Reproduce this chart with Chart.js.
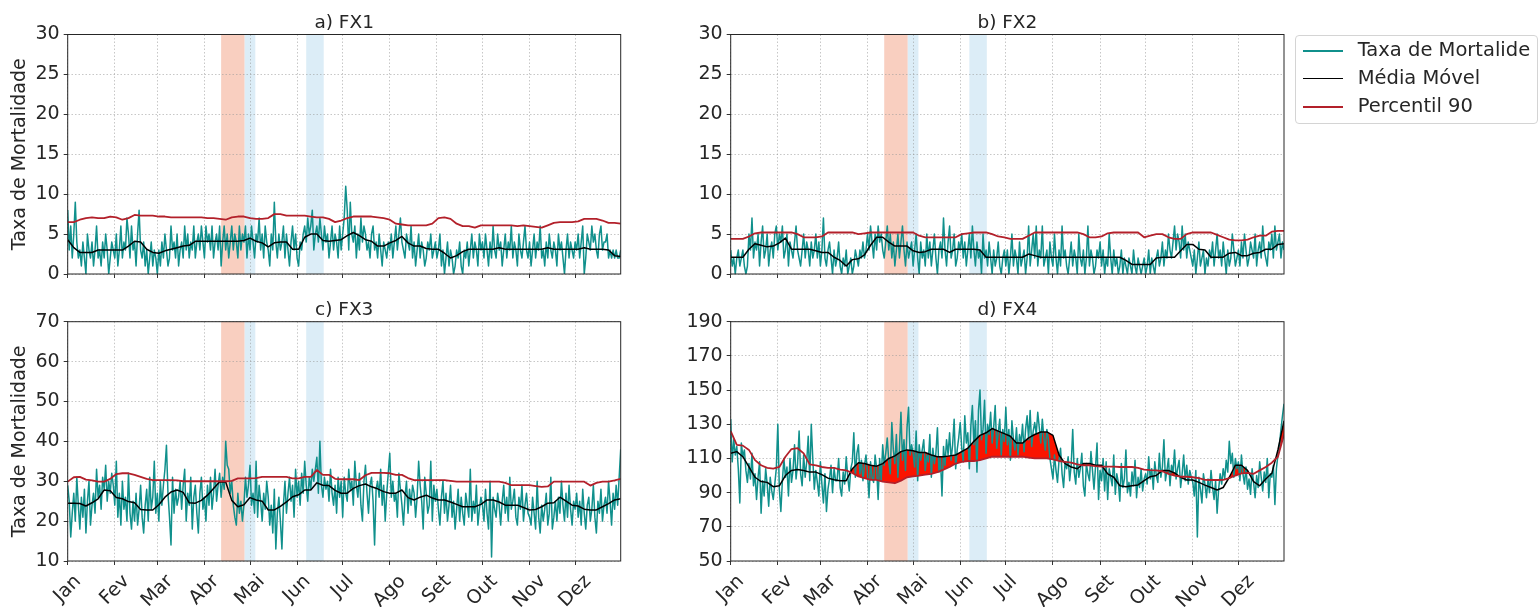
<!DOCTYPE html>
<html>
<head>
<meta charset="utf-8">
<script src="https://cdn.jsdelivr.net/npm/chart.js@4.4.1/dist/chart.umd.min.js"></script>
<style>
  body { margin: 0; background: #fff; width: 1539px; height: 607px; position: relative; overflow: hidden; }
  canvas { position: absolute; }
  #legend {
    position: absolute; left: 1295px; top: 35px; width: 243px; height: 89px;
    box-sizing: border-box; border: 1px solid #d4d4d4; border-radius: 4px;
    font: 19.5px 'DejaVu Sans', sans-serif; color: #262626;
  }
  #legend .row { position: absolute; left: 6.7px; height: 28px; line-height: 28px; white-space: nowrap; }
  #legend .sw { display: inline-block; width: 40px; height: 2px; vertical-align: middle; margin-right: 15px; }
</style>
</head>
<body>
<canvas id="fx1" width="640" height="300" style="left:0;top:0"></canvas>
<canvas id="fx2" width="640" height="300" style="left:660px;top:0"></canvas>
<canvas id="fx3" width="640" height="307" style="left:0;top:300px"></canvas>
<canvas id="fx4" width="640" height="307" style="left:660px;top:300px"></canvas>
<div id="legend">
  <div class="row" style="top:0"><span class="sw" style="background:#10908c"></span>Taxa de Mortalide</div>
  <div class="row" style="top:28px"><span class="sw" style="background:#000;height:1.5px"></span>Média Móvel</div>
  <div class="row" style="top:56px"><span class="sw" style="background:#b3202a"></span>Percentil 90</div>
</div>
<script>
// day-of-year axis, month ticks
const monthStarts = [0, 31, 59, 90, 120, 151, 181, 212, 243, 273, 304, 334];
const monthLabels = ['Jan', 'Fev', 'Mar', 'Abr', 'Mai', 'Jun', 'Jul', 'Ago', 'Set', 'Out', 'Nov', 'Dez'];

// shaded periods (day of year)
const redPeriods = [[101, 116.5]];
const bluePeriods = [[116.5, 123.5], [157, 168.5]];

// y ticks per panel
const yTicksFx12 = [0, 5, 10, 15, 20, 25, 30];
const yTicksFx3 = [10, 20, 30, 40, 50, 60, 70];
const yTicksFx4 = [50, 70, 90, 110, 130, 150, 170, 190];

// moving average / percentile are sampled every 4 days
const avgDays = Array.from({ length: 92 }, (_, i) => i * 4);

// FX1 daily rate (Jan..Dez)
const fx1Rate = [
  8,3,6,2,5,9,4,2,3,1, 4,2,0,5,3,2,4,1,3,6, 2,3,1,4,2,5,3,0,2,4, 3,
  2,5,1,3,6,2,4,3,7,5, 2,6,3,4,1,5,8,3,2,4, 1,3,0,2,4,1,3,2,
  0,3,1,4,2,5,3,1,2,6, 3,4,2,5,1,3,4,2,6,3, 5,2,4,3,6,2,4,5,3,6, 4,
  2,6,4,5,3,6,2,4,5,3, 6,1,4,6,3,5,2,4,6,3, 5,4,2,6,3,5,4,6,2,5,
  3,6,4,2,5,4,7,3,5,2, 6,4,3,1,5,3,9,4,2,5, 3,4,6,2,5,3,1,4,6,3, 5,
  2,1,4,3,5,6,4,7,5,6, 8,3,5,6,4,7,5,3,6,4, 5,2,4,6,3,5,4,2,6,3,
  5,7,11,8,3,9,5,4,6,2, 5,3,7,4,6,5,3,4,2,5, 6,3,4,2,5,3,1,4,3,2, 4,
  3,5,2,4,6,3,5,7,4,3, 2,5,4,3,6,2,4,1,3,5, 2,4,3,1,2,4,3,5,2,3, 4,
  2,3,5,1,3,0,2,4,1,3, 2,0,1,3,2,4,1,0,3,2, 4,1,3,5,2,4,3,1,5,3,
  4,2,5,3,1,4,2,6,3,2, 5,3,4,1,3,5,2,4,3,6, 2,4,3,1,5,3,2,4,6,3, 2,
  4,1,3,5,2,4,3,6,2,3, 1,4,2,5,3,2,4,3,1,5, 3,4,2,0,3,5,2,4,3,2,
  4,3,5,2,4,6,0,2,5,4, 3,6,4,5,3,2,5,6,3,4, 4,5,2,3,2,3,2,3,2,2, 3
];
const fx1Avg = [
  4.3, 3.3, 2.7, 2.7, 2.7, 3.0, 3.0, 3.0, 3.0, 3.0,
  3.5, 4.1, 4.0, 3.1, 2.7, 2.6, 2.9, 3.1, 3.3, 3.5,
  3.6, 4.1, 4.1, 4.1, 4.1, 4.1, 4.1, 4.1, 4.1, 4.2,
  4.5, 4.1, 3.9, 3.4, 3.9, 4.0, 4.0, 3.1, 3.1, 4.6,
  5.0, 5.0, 4.2, 4.1, 4.2, 4.3, 4.8, 5.2, 4.8, 4.3,
  4.1, 3.5, 3.5, 3.9, 4.2, 4.7, 3.9, 3.5, 3.5, 3.2,
  3.1, 3.1, 2.6, 2.0, 2.3, 2.8, 3.1, 3.1, 3.1, 3.1,
  3.1, 3.3, 3.1, 3.1, 3.1, 3.1, 3.1, 3.1, 3.1, 3.3,
  3.1, 3.1, 3.1, 3.1, 3.1, 3.3, 3.1, 3.1, 3.1, 3.0,
  2.3, 2.2
];
const fx1P90 = [
  6.5, 6.5, 6.8, 7.0, 7.1, 7.0, 7.0, 7.2, 7.1, 6.8,
  7.0, 7.4, 7.3, 7.3, 7.3, 7.2, 7.2, 7.1, 7.1, 7.1,
  7.1, 7.1, 7.1, 7.0, 7.0, 6.9, 6.8, 7.1, 7.2, 7.2,
  7.0, 6.9, 6.9, 7.0, 7.5, 7.5, 7.3, 7.3, 7.3, 7.3,
  7.2, 7.1, 7.1, 6.9, 6.5, 6.7, 7.0, 7.2, 7.2, 7.2,
  7.2, 7.1, 7.0, 6.8, 6.3, 6.2, 6.1, 6.1, 6.1, 6.1,
  6.3, 7.0, 7.1, 6.9, 6.3, 6.0, 6.0, 5.8, 6.1, 6.1,
  6.1, 6.1, 6.1, 6.1, 6.0, 6.1, 6.0, 5.9, 5.8, 6.1,
  6.4, 6.5, 6.5, 6.5, 6.6, 6.9, 6.9, 6.9, 6.7, 6.4,
  6.4, 6.3
];

// FX2
const fx2Rate = [
  3,1,2,0,2,3,1,2,3,1, 0,1,5,3,7,2,4,3,5,1, 4,6,2,3,5,1,3,4,2,5, 6,
  3,5,4,6,2,3,5,1,4,3, 2,4,6,3,2,1,3,5,2,4, 3,1,4,2,3,5,2,4,
  1,3,7,2,1,3,4,2,0,3, 1,2,4,1,0,2,1,3,0,1, 2,0,1,3,2,1,3,2,4,2, 3,
  5,3,6,4,2,5,3,6,4,5, 3,2,4,6,3,5,2,4,1,3, 5,2,4,6,3,1,4,2,3,4,
  1,3,5,2,0,4,2,3,1,5, 2,4,1,3,5,2,0,3,4,2, 7,3,1,4,6,2,3,5,1,2, 4,
  3,5,2,4,1,3,5,2,6,3, 1,4,2,3,0,5,2,3,1,4, 2,0,3,1,2,4,1,0,2,3,
  1,3,0,2,5,1,3,2,0,4, 1,2,3,0,2,6,1,3,5,2, 6,1,3,2,6,1,2,3,0,4, 2,
  1,5,2,0,3,1,6,2,3,1, 0,2,4,1,3,2,0,5,2,1, 3,0,2,6,1,3,2,0,1,3, 2,
  4,1,3,0,2,1,5,2,0,3, 1,2,0,1,3,0,2,1,0,2, 1,0,3,1,0,2,1,0,1,2,
  0,1,3,0,2,1,0,2,3,1, 2,4,1,3,2,5,3,2,4,6, 3,5,4,2,6,3,5,2,4,3, 2,
  1,3,0,2,4,1,2,3,0,2, 1,3,2,4,1,3,5,2,3,1, 4,2,0,3,1,2,5,3,1,2,
  3,1,4,2,5,3,1,2,4,3, 2,5,1,3,4,2,6,3,2,1, 4,3,5,2,6,3,4,5,2,4, 3
];
const fx2Avg = [
  2.1, 2.1, 2.1, 3.1, 3.8, 3.6, 3.4, 3.5, 3.9, 4.5,
  3.1, 3.1, 3.1, 3.1, 2.9, 2.7, 2.7, 2.1, 1.7, 1.0,
  1.8, 1.9, 2.4, 3.6, 4.6, 4.6, 4.0, 3.5, 3.5, 3.5,
  2.9, 2.7, 2.8, 3.1, 3.1, 3.1, 2.7, 3.1, 3.1, 3.1,
  3.1, 3.0, 2.1, 2.1, 2.1, 2.1, 2.1, 2.1, 2.1, 2.5,
  2.3, 2.1, 2.1, 2.1, 2.1, 2.1, 2.1, 2.1, 2.1, 2.1,
  2.1, 2.1, 2.1, 2.1, 2.1, 1.7, 1.2, 1.2, 1.2, 1.2,
  2.0, 2.1, 2.1, 2.1, 2.9, 3.7, 3.7, 3.1, 3.0, 2.1,
  2.1, 2.1, 2.6, 2.7, 2.3, 2.3, 2.6, 2.7, 3.1, 3.1,
  3.7, 3.8
];
const fx2P90 = [
  4.4, 4.4, 4.4, 4.7, 5.1, 5.2, 5.2, 5.2, 5.2, 5.2,
  5.2, 5.0, 4.6, 4.6, 4.6, 4.7, 5.2, 5.2, 5.2, 5.2,
  5.2, 5.0, 5.1, 5.2, 5.2, 5.2, 5.2, 5.2, 5.2, 5.2,
  5.2, 4.8, 4.6, 4.6, 4.6, 4.6, 4.6, 4.6, 5.0, 5.1,
  5.2, 5.2, 5.2, 5.0, 4.7, 4.6, 4.4, 4.4, 4.4, 4.8,
  5.2, 5.2, 5.2, 5.2, 5.2, 5.2, 5.2, 5.2, 5.0, 4.6,
  4.6, 4.7, 5.1, 5.2, 5.2, 5.2, 5.2, 5.2, 4.6, 4.8,
  5.0, 5.0, 4.6, 4.4, 4.4, 5.0, 5.2, 5.2, 5.2, 5.2,
  4.9, 4.6, 4.3, 4.2, 4.2, 4.3, 4.6, 4.8, 4.8, 5.3,
  5.4, 5.4
];

// FX3
const fx3Rate = [
  29,25,16,22,27,20,31,24,18,26, 21,28,17,25,30,19,24,27,22,33, 26,29,23,31,28,34,25,30,27,32, 29,
  24,35,21,27,19,30,23,26,20,32, 22,18,25,20,27,19,23,29,21,17, 24,28,20,31,23,26,35,22,
  27,20,30,24,29,33,39,27,21,14, 31,22,28,24,26,30,23,29,33,20, 27,24,31,18,26,29,22,17,27,31, 23,
  26,20,29,24,31,23,27,33,25,29, 32,26,31,28,40,34,33,27,30,24, 21,19,27,22,25,20,24,31,26,29,
  34,24,27,22,35,21,29,25,20,27, 23,30,26,19,24,17,28,13,22,26, 20,13,24,30,22,27,31,25,29,21, 33,
  26,30,24,32,27,35,29,25,31,28, 33,30,33,36,27,40,29,26,31,28, 30,25,33,27,24,29,22,31,26,30,
  21,31,27,25,33,28,30,24,35,29, 26,32,24,20,30,34,27,22,29,31, 25,14,28,30,26,33,24,29,20,27, 32,
  37,26,30,25,27,21,32,28,24,19, 26,30,22,28,24,29,27,21,26,35, 29,25,18,31,27,22,24,35,20,29, 25,
  28,23,19,26,30,22,27,20,24,29, 21,25,18,23,28,20,26,22,19,27, 24,21,33,20,25,22,29,19,23,26,
  24,20,28,22,18,30,11,26,23,21, 27,24,19,25,29,22,26,20,31,23, 25,28,21,19,26,23,29,20,24,27, 22,
  21,19,26,22,18,30,21,17,24,20, 23,27,19,22,31,18,21,25,20,26, 22,30,24,20,27,21,29,23,19,25,
  23,27,21,25,19,28,22,18,24,26, 20,23,29,21,17,25,22,28,20,24, 26,22,30,25,19,27,23,29,24,31, 38
];
const fx3Avg = [
  24.5, 24.5, 24.4, 23.8, 24.6, 25.6, 27.8, 27.6, 25.9, 25.6,
  24.9, 24.6, 22.9, 22.8, 22.8, 24.1, 26.0, 27.3, 27.8, 27.2,
  24.6, 24.5, 25.2, 26.5, 28.2, 29.9, 29.8, 25.2, 23.6, 24.1,
  25.9, 25.3, 25.0, 22.8, 22.8, 23.7, 24.8, 26.1, 26.6, 27.8,
  27.8, 29.6, 29.0, 28.9, 27.7, 27.0, 27.0, 28.2, 28.9, 29.3,
  28.6, 28.1, 27.4, 27.0, 27.0, 27.8, 25.9, 25.3, 26.0, 26.5,
  25.8, 25.3, 25.3, 24.8, 24.2, 23.6, 23.6, 23.6, 24.2, 25.3,
  25.3, 24.8, 24.0, 24.0, 24.0, 23.4, 22.8, 22.9, 23.6, 24.5,
  24.6, 26.0, 25.0, 24.0, 23.8, 23.0, 22.8, 22.8, 23.6, 24.4,
  25.3, 25.6
];
const fx3P90 = [
  29.9, 31.0, 31.1, 30.4, 30.2, 29.9, 29.9, 30.6, 31.8, 32.0,
  32.0, 31.6, 31.1, 30.6, 30.3, 30.3, 30.3, 30.3, 30.2, 30.0,
  30.0, 30.0, 30.0, 30.0, 30.0, 30.0, 30.0, 30.1, 30.7, 30.7,
  30.7, 30.8, 31.1, 31.1, 31.1, 31.1, 31.1, 30.7, 30.7, 31.1,
  31.1, 32.8, 31.6, 31.6, 30.6, 30.5, 30.5, 30.5, 30.3, 31.5,
  32.1, 32.1, 32.1, 32.0, 31.6, 31.6, 30.8, 30.3, 30.3, 30.3,
  30.3, 30.3, 30.3, 30.1, 29.9, 29.9, 29.9, 29.9, 29.9, 29.9,
  29.9, 29.9, 29.6, 29.0, 29.0, 29.0, 29.0, 28.8, 28.6, 28.7,
  29.9, 29.9, 29.9, 29.9, 29.9, 29.9, 28.9, 29.6, 29.9, 29.9,
  30.2, 30.6
];

// FX4
const fx4Rate = [
  133,108,121,112,117,104,84,119,111,115, 103,96,107,98,113,94,101,86,99,108, 78,97,88,104,95,82,99,91,86,95, 104,
  130,92,79,97,110,99,105,88,110,96, 103,118,98,107,126,101,94,112,99,108, 123,97,130,110,92,103,96,88,
  108,95,84,101,79,92,98,106,90,104, 97,97,110,93,88,102,95,111,99,91, 104,108,125,99,113,118,101,109,97,106, 112,
  101,87,108,99,96,112,104,86,110,97, 118,106,113,122,108,101,131,115,107,124, 99,116,137,109,121,103,128,140,112,118,
  113,105,126,97,118,109,115,121,103,112, 108,124,99,116,107,113,128,102,110,88, 117,106,121,112,125,109,118,133,104,115, 122,
  131,116,108,135,119,125,104,129,141,118, 132,102,138,150,121,127,144,113,130,124, 137,119,128,141,116,125,133,112,127,120,
  140,118,127,109,132,121,115,128,112,124, 119,130,114,127,135,121,138,117,126,131, 124,137,128,119,133,122,115,127,121,110, 104,
  98,112,103,96,109,116,101,93,108,104, 111,97,106,127,102,95,110,99,104,113, 94,88,107,101,97,114,103,92,105,119, 86,
  103,97,110,91,108,86,104,99,94,112, 89,101,96,85,107,93,98,115,90,96, 88,102,94,109,87,99,93,104,91,98,
  101,95,111,98,104,92,108,100,96,113, 99,105,121,97,103,110,94,106,102,115, 98,104,109,93,101,112,97,106,95,103, 99,
  96,88,103,64,99,92,84,101,95,87, 98,90,103,93,86,97,78,92,101,95, 104,98,109,102,120,107,113,99,110,104,
  108,97,112,101,95,105,92,98,89,104, 96,87,100,93,108,99,91,102,96,110, 87,101,99,106,83,104,112,118,127,135, 142
];
const fx4Avg = [
  113, 114, 111, 105, 99, 96.5, 96, 93.5, 94, 100,
  103, 103.5, 103, 102, 102, 100.5, 98.5, 97.5, 97, 97,
  104, 107.5, 107, 106, 105.5, 107, 110, 111.5, 114, 115,
  114.5, 113.5, 113.5, 112, 111, 111, 111.5, 112, 114, 116,
  120, 123.5, 125, 127.5, 126, 124.5, 123, 119, 119, 122,
  124, 125.5, 125.5, 123.5, 112, 107, 105, 104, 107, 107,
  106, 106, 101, 99, 94, 93.5, 94, 94.5, 97, 99.3,
  100, 103, 103, 101.5, 99, 97.4, 97.4, 96, 94.4, 93,
  91.5, 93, 99, 106, 106, 103, 96.4, 94, 98, 101.3,
  115, 132
];
const fx4P90 = [
  126, 118, 117.5, 115, 109, 106, 104.5, 104, 105, 111,
  115.5, 116, 113, 106.5, 106, 105, 104.5, 104.5, 103.5, 103,
  101.5, 99.5, 98.5, 97.5, 97.5, 96.5, 96, 95.5, 97, 99,
  99.5, 100, 100.5, 101, 102, 103.5, 105, 107, 108, 108.5,
  108.5, 109, 110, 111, 111, 111, 111, 111, 111, 110.5,
  110, 110, 110, 109.5, 108.5, 108, 107.5, 106.5, 106, 106,
  105.5, 105.2, 105.2, 105.2, 105, 105, 105, 104.5, 103.5, 103.2,
  103, 102.5, 101, 100, 99.3, 99.3, 99, 98.5, 97.5, 97.4,
  97.4, 97.5, 98.5, 100, 101.3, 101.5, 101, 103, 105, 107.5,
  111, 124
];

const TEAL = '#10908c';
const DARK_RED = '#b3202a';
const TEXT = '#262626';

Chart.defaults.font.family = "'DejaVu Sans', sans-serif";
Chart.defaults.color = TEXT;

// shaded periods, frame, titles and rotated month labels
Chart.register({
  id: 'panel',
  beforeDraw(chart) {
    const { ctx, chartArea: a, scales: { x } } = chart;
    ctx.save();
    const span = (list, color) => list.forEach(([s, e]) => {
      const x1 = x.getPixelForValue(s), x2 = x.getPixelForValue(e);
      ctx.fillStyle = color;
      ctx.fillRect(x1, a.top, x2 - x1, a.bottom - a.top);
    });
    span(redPeriods, '#f9cfc0');
    span(bluePeriods, '#dcedf7');
    ctx.restore();
  },
  afterDraw(chart, args, opts) {
    const { ctx, chartArea: a, scales: { x } } = chart;
    ctx.save();
    ctx.strokeStyle = '#262626';
    ctx.lineWidth = 1;
    ctx.strokeRect(a.left, a.top, a.right - a.left, a.bottom - a.top);

    ctx.fillStyle = TEXT;
    ctx.font = "18.5px 'DejaVu Sans', sans-serif";
    ctx.textAlign = 'center';
    ctx.textBaseline = 'alphabetic';
    ctx.fillText(opts.title, (a.left + a.right) / 2, a.top - 7);

    if (opts.yLabel) {
      ctx.save();
      ctx.font = "19px 'DejaVu Sans', sans-serif";
      ctx.translate(20, (a.top + a.bottom) / 2);
      ctx.rotate(-Math.PI / 2);
      ctx.textBaseline = 'middle';
      ctx.fillText('Taxa de Mortalidade', 0, 0);
      ctx.restore();
    }

    if (opts.months) {
      ctx.font = "19px 'DejaVu Sans', sans-serif";
      ctx.textBaseline = 'middle';
      monthLabels.forEach((m, i) => {
        const px = x.getPixelForValue(monthStarts[i]);
        const w = ctx.measureText(m).width;
        const cy = a.bottom + 10 + (w + 21) * Math.SQRT1_2 / 2;
        ctx.save();
        ctx.translate(px, cy);
        ctx.rotate(-Math.PI / 4);
        ctx.fillText(m, 0, 0);
        ctx.restore();
      });
    }
    ctx.restore();
  }
});

function makePanel(p) {
  const gridOpts = {
    color: 'rgba(150,150,150,0.6)',
    lineWidth: 0.9,
    tickLength: 4,
    tickColor: '#333',
    tickWidth: 1,
    tickBorderDash: []
  };
  new Chart(document.getElementById(p.id), {
    type: 'line',
    data: {
      datasets: [
        {
          label: 'Taxa de Mortalide',
          data: p.rate.map((v, i) => ({ x: i, y: v })),
          borderColor: TEAL,
          borderWidth: 1.5,
          order: 3
        },
        {
          label: 'Média Móvel',
          data: p.avg.map((v, i) => ({ x: avgDays[i], y: v })),
          borderColor: '#000',
          borderWidth: 1.5,
          order: 2,
          fill: { target: 2, above: '#fa1400', below: 'rgba(0,0,0,0)' }
        },
        {
          label: 'Percentil 90',
          data: p.p90.map((v, i) => ({ x: avgDays[i], y: v })),
          borderColor: DARK_RED,
          borderWidth: 1.8,
          order: 1
        }
      ]
    },
    options: {
      responsive: false,
      animation: false,
      devicePixelRatio: 1,
      layout: { padding: { left: 0, top: p.top, right: p.right, bottom: 0 } },
      elements: { point: { radius: 0 }, line: { tension: 0, borderJoinStyle: 'round' } },
      plugins: {
        legend: { display: false },
        tooltip: { enabled: false },
        filler: { drawTime: 'beforeDatasetsDraw' },
        panel: { title: p.title, yLabel: p.yLabel, months: p.months }
      },
      scales: {
        x: {
          type: 'linear',
          min: 0,
          max: 364,
          afterBuildTicks: s => { s.ticks = monthStarts.map(v => ({ value: v })); },
          afterFit: s => { s.height = p.xHeight; },
          ticks: { display: false },
          grid: gridOpts,
          border: { display: false, dash: [1.5, 2] }
        },
        y: {
          min: p.yTicks[0],
          max: p.yTicks[p.yTicks.length - 1],
          afterBuildTicks: s => { s.ticks = p.yTicks.map(v => ({ value: v })); },
          afterFit: s => { s.width = p.yWidth; },
          ticks: { font: { size: 19 }, color: TEXT, padding: 4 },
          grid: gridOpts,
          border: { display: false, dash: [1.5, 2] }
        }
      }
    }
  });
}

makePanel({ id: 'fx1', title: 'a) FX1', rate: fx1Rate, avg: fx1Avg, p90: fx1P90, yTicks: yTicksFx12,
  yLabel: true, months: false, top: 34.5, right: 19.3, yWidth: 67.7, xHeight: 26 });
makePanel({ id: 'fx2', title: 'b) FX2', rate: fx2Rate, avg: fx2Avg, p90: fx2P90, yTicks: yTicksFx12,
  yLabel: false, months: false, top: 34.5, right: 16, yWidth: 70.7, xHeight: 26 });
makePanel({ id: 'fx3', title: 'c) FX3', rate: fx3Rate, avg: fx3Avg, p90: fx3P90, yTicks: yTicksFx3,
  yLabel: true, months: true, top: 21.7, right: 19.3, yWidth: 67.7, xHeight: 46 });
makePanel({ id: 'fx4', title: 'd) FX4', rate: fx4Rate, avg: fx4Avg, p90: fx4P90, yTicks: yTicksFx4,
  yLabel: false, months: true, top: 21.7, right: 16, yWidth: 70.7, xHeight: 46 });
</script>
</body>
</html>
